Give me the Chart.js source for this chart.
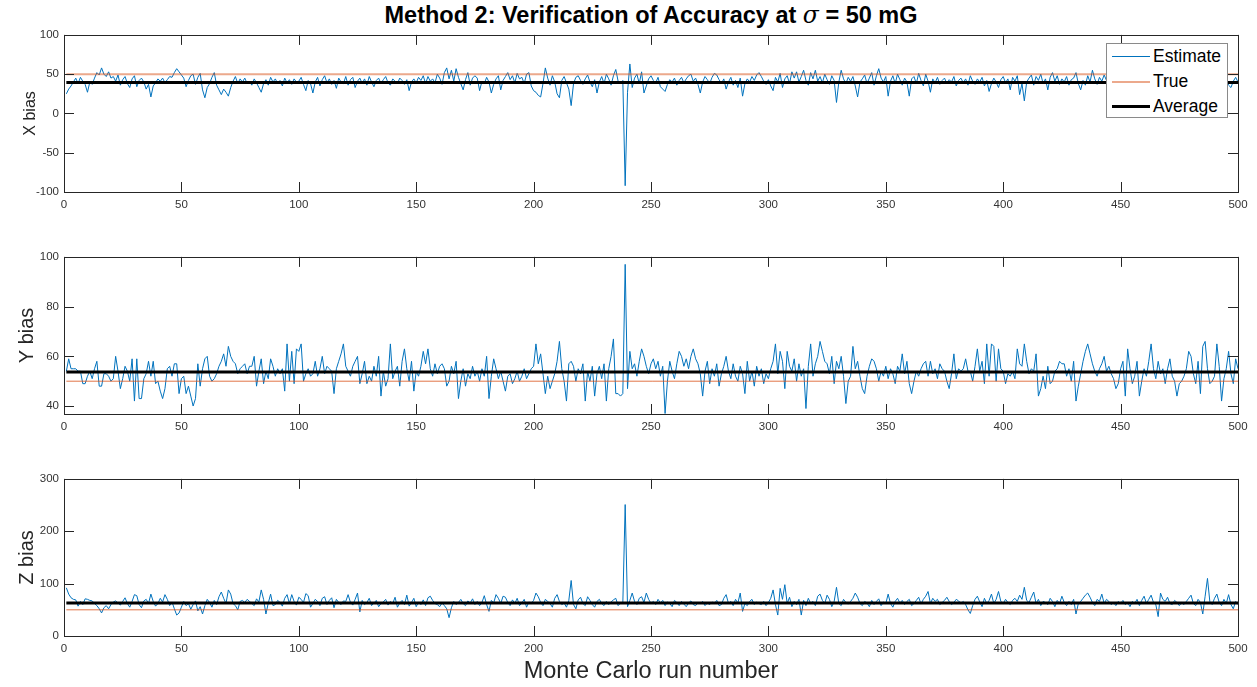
<!DOCTYPE html>
<html>
<head>
<meta charset="utf-8">
<script src="https://cdn.jsdelivr.net/npm/chart.js@4.4.1/dist/chart.umd.min.js"></script>
<style>
  body { margin: 0; background: #fff; }
  #page { position: relative; width: 1257px; height: 687px; overflow: hidden; font-family: "Liberation Sans", Arial, sans-serif; }
  #page canvas { position: absolute; left: 0; }
  #title { position: absolute; top: 1px; left: 301px; width: 700px; text-align: center; font-weight: bold; font-size: 23.5px; color: #000; white-space: nowrap; }
  #title i { font-weight: normal; font-family: "DejaVu Serif", serif; }
  #xlabel { position: absolute; top: 657px; left: 451px; width: 400px; text-align: center; font-size: 23.5px; color: #262626; white-space: nowrap; }
  #legend { position: absolute; left: 1106px; top: 43px; width: 122px; height: 75px; box-sizing: border-box; border: 1px solid #8a8a8a; background: #fff; font-size: 17.5px; color: #000; }
  #legend .row { display: flex; align-items: center; height: 25px; }
  #legend .swatch { display: inline-block; width: 38px; margin-left: 5px; margin-right: 3px; }
</style>
</head>
<body>
<div id="page">
  <div id="title">Method 2: Verification of Accuracy at <i>σ</i> = 50 mG</div>
  <canvas id="xChart" width="1257" height="200" style="top:23px"></canvas>
  <canvas id="yChart" width="1257" height="200" style="top:245px"></canvas>
  <canvas id="zChart" width="1257" height="200" style="top:467px"></canvas>
  <div id="xlabel">Monte Carlo run number</div>
  <div id="legend">
    <div class="row"><span class="swatch" style="border-top:1px solid #0072BD"></span>Estimate</div>
    <div class="row"><span class="swatch" style="border-top:2px solid rgba(217,83,25,0.5)"></span>True</div>
    <div class="row"><span class="swatch" style="border-top:3px solid #000"></span>Average</div>
  </div>
</div>
<script>
// tick labels
var runTicks = [0, 50, 100, 150, 200, 250, 300, 350, 400, 450, 500];
var xBiasTicks = [-100, -50, 0, 50, 100];
var yBiasTicks = [40, 60, 80, 100];
var zBiasTicks = [0, 100, 200, 300];

// reference lines
var trueX = 50, trueY = 50, trueZ = 50;
var avgX = 39.5, avgY = 53.7, avgZ = 63;

// estimates for runs 1..500
var xBias = [
  25,31,35,40,45,38,46,41,37,27,40,37,45,52,49,58,50,47,53,45,47,41,49,36,43,
  47,38,33,44,48,34,42,45,40,31,37,21,35,39,44,41,45,39,43,47,46,52,57,53,49,
  45,34,42,48,50,37,46,51,30,20,33,38,46,52,36,30,24,31,27,22,33,41,47,38,44,
  40,45,38,41,36,44,39,33,27,38,43,36,46,40,44,38,42,35,45,39,43,37,44,40,41,
  46,37,29,42,38,26,40,46,35,43,48,39,44,37,42,32,45,40,38,47,36,43,46,33,41,
  45,38,44,36,47,40,34,42,45,38,43,47,39,36,44,41,38,45,42,37,43,29,40,44,39,
  46,42,48,38,47,41,44,39,50,45,37,52,58,44,55,41,57,46,38,30,43,52,36,45,48,
  45,29,41,38,46,40,26,37,44,48,30,42,47,52,43,48,39,51,44,46,38,50,52,35,29,
  27,23,21,38,58,45,36,48,40,25,20,42,47,39,31,10,38,46,48,42,37,44,49,40,34,
  43,26,40,47,38,50,44,36,48,56,41,38,42,-92,27,63,33,45,50,38,53,26,35,44,48,
  42,39,46,34,31,28,37,43,40,45,36,42,46,39,44,48,50,41,45,37,26,40,47,43,38,
  46,51,49,43,38,44,31,40,46,36,42,33,45,22,38,44,40,47,42,49,52,47,41,37,43,
  35,29,46,40,51,33,44,48,38,53,45,53,40,47,55,42,36,52,44,55,41,47,39,50,43,
  37,48,42,14,40,55,44,38,46,41,47,35,21,40,44,49,38,45,52,36,48,57,45,40,47,
  22,41,48,38,50,43,36,45,40,22,44,47,38,51,42,35,50,41,27,44,39,46,37,42,45,
  38,43,40,47,35,42,45,39,44,36,48,41,37,44,40,46,35,42,28,38,45,40,33,43,47,
  39,44,30,46,41,48,24,38,16,40,45,49,36,47,42,50,38,44,30,46,52,41,48,37,44,
  40,47,36,43,45,52,38,30,42,36,48,40,55,44,37,46,41,49,42,52,38,44,25,40,46,
  41,48,37,44,39,46,42,35,47,40,44,38,49,43,36,45,41,48,39,44,37,46,42,50,40,
  45,38,43,47,36,42,49,40,44,37,46,41,48,39,35,44,40,47,38,43,36,33,41,46,40
];
var yBias = [
  54,59,55,55,55,54,54,49,49,52,54,51,55,58,48,48,53,53,52,50,51,60,54,47,51,
  56,54,50,59,42,59,43,43,51,53,58,52,58,49,50,46,43,47,55,56,52,57,57,45,51,
  52,45,48,44,40,43,57,48,55,59,60,52,50,51,53,56,58,61,56,64,60,58,57,53,55,
  56,57,53,56,56,60,48,54,59,49,54,51,59,56,52,55,53,55,46,65,50,62,49,63,62,
  65,50,53,55,52,53,58,52,55,60,53,56,55,54,45,55,58,61,65,56,54,52,56,58,60,
  49,53,58,49,52,50,56,52,60,44,54,48,51,65,51,54,56,48,58,63,55,50,58,46,54,
  52,56,62,57,63,55,52,57,53,56,57,55,48,50,56,53,58,43,50,55,48,53,51,56,52,
  54,50,55,52,60,43,52,59,55,51,54,50,46,52,53,49,51,54,50,52,55,51,53,55,56,
  65,57,61,53,45,52,47,50,53,58,66,55,50,42,57,58,56,50,55,53,57,42,54,50,56,
  44,53,56,51,57,42,55,60,67,45,45,44,45,97,47,62,55,57,52,58,63,60,56,53,57,
  59,55,58,52,56,37,50,58,54,51,57,62,60,56,59,55,60,63,59,57,53,44,54,58,49,
  55,52,57,48,53,56,60,54,51,57,52,50,56,53,45,58,50,54,48,56,52,55,49,53,51,
  55,58,65,53,62,58,47,62,56,54,59,50,57,52,55,39,56,65,52,57,60,66,62,58,57,
  53,60,49,58,55,60,52,41,50,52,64,55,58,52,47,45,52,56,59,58,55,50,54,52,56,
  51,55,53,49,56,54,61,53,58,49,45,50,54,52,55,57,58,52,58,53,55,51,57,55,54,
  50,47,53,61,51,55,54,55,59,54,54,50,56,63,54,58,49,65,52,65,64,50,63,55,54,
  49,53,52,54,51,63,57,56,65,58,53,55,54,61,44,47,52,47,56,49,50,54,55,58,57,
  57,52,55,50,58,42,48,53,58,62,65,61,57,54,52,55,57,60,54,56,53,51,47,49,55,
  58,44,63,55,49,52,58,44,50,55,52,58,65,55,51,58,53,55,49,55,59,52,50,44,49,
  50,52,55,62,60,53,49,58,45,64,66,55,49,50,52,65,56,42,51,55,62,53,49,59,55
];
var zBias = [
  92,80,73,70,69,57,66,60,71,70,68,67,62,58,52,44,54,58,52,60,65,67,63,59,66,
  73,62,55,66,79,77,60,54,67,70,62,80,66,57,62,72,65,79,70,58,65,52,40,44,55,
  66,58,62,51,60,67,48,56,42,58,70,64,55,68,60,75,84,72,62,88,80,62,58,50,66,
  68,64,70,66,62,58,71,65,88,70,42,63,80,58,60,68,64,57,72,79,62,79,66,59,74,
  70,64,81,77,55,62,70,66,58,72,75,60,68,73,54,70,64,60,67,66,79,64,59,70,82,
  46,68,60,64,72,58,63,68,56,62,65,70,59,66,62,74,55,63,68,60,78,57,64,72,56,
  65,60,69,58,73,76,68,62,60,56,63,58,52,35,54,66,60,64,70,62,58,67,63,71,60,
  66,58,64,77,60,47,68,63,79,72,62,76,74,64,58,69,62,72,58,63,70,55,65,62,68,
  82,75,64,58,70,66,62,55,72,79,66,60,63,55,68,106,60,52,69,74,62,58,75,68,60,
  55,66,70,62,58,66,60,65,69,72,58,63,62,251,56,68,82,66,60,72,75,64,82,70,62,
  66,60,70,63,68,58,65,62,56,68,64,58,66,61,56,63,67,60,58,64,62,66,58,63,60,
  65,62,68,58,60,72,79,62,66,58,70,63,82,47,62,58,66,70,60,65,62,60,66,58,64,
  72,88,60,40,91,70,98,62,74,56,66,60,70,40,68,58,72,62,66,58,76,80,68,62,78,
  70,56,66,93,62,58,70,64,61,66,72,82,74,62,58,66,63,56,68,60,66,71,58,65,62,
  80,62,55,66,72,63,68,60,66,70,58,62,68,74,61,70,76,85,62,72,66,70,60,64,68,
  74,66,60,64,70,67,62,66,60,50,43,58,70,76,65,56,72,62,68,80,62,70,85,66,62,
  70,64,60,68,72,66,78,70,93,68,64,74,84,62,70,58,66,64,60,72,66,56,68,62,76,
  64,58,66,60,70,42,62,66,72,78,82,74,64,58,70,66,80,62,70,66,60,64,58,66,62,
  68,60,64,56,66,62,70,58,68,76,62,70,78,64,60,37,82,70,66,74,62,60,68,64,58,
  64,60,66,72,78,62,58,70,64,42,76,110,66,60,72,80,64,58,70,62,79,60,52,66,60
];

// MATLAB style box with inward ticks on all four sides
var boxPlugin = {
  id: 'matlabBox',
  afterDraw: function (chart) {
    var ctx = chart.ctx, a = chart.chartArea;
    var xs = chart.scales.x, ys = chart.scales.y;
    var len = 10;
    ctx.save();
    ctx.strokeStyle = '#262626';
    ctx.lineWidth = 1;
    ctx.beginPath();
    xs.ticks.forEach(function (t) {
      var px = Math.round(xs.getPixelForValue(t.value)) + 0.5;
      ctx.moveTo(px, a.bottom); ctx.lineTo(px, a.bottom - len);
      ctx.moveTo(px, a.top); ctx.lineTo(px, a.top + len);
    });
    ys.ticks.forEach(function (t) {
      var py = Math.round(ys.getPixelForValue(t.value)) + 0.5;
      ctx.moveTo(a.left, py); ctx.lineTo(a.left + len, py);
      ctx.moveTo(a.right, py); ctx.lineTo(a.right - len, py);
    });
    ctx.stroke();
    ctx.strokeRect(Math.round(a.left) + 0.5, Math.round(a.top) + 0.5, Math.round(a.right - a.left), Math.round(a.bottom - a.top));
    ctx.restore();
  }
};

function drawPanel(id, values, trueVal, avgVal, yMin, yMax, yTicks, yTitle, titleSize, titlePad, trueColor, trueWidth) {
  var plotHeight = 159;
  var estimate = values.map(function (v, i) { return { x: i + 1, y: v }; });
  var flat = function (v) { return [{ x: 1, y: v }, { x: values.length, y: v }]; };
  return new Chart(document.getElementById(id), {
    type: 'line',
    data: {
      datasets: [
        { label: 'Estimate', data: estimate, borderColor: '#0072BD', borderWidth: 1, order: 2 },
        { label: 'True', data: flat(trueVal), borderColor: trueColor, borderWidth: trueWidth, order: 1 },
        { label: 'Average', data: flat(avgVal), borderColor: '#000000', borderWidth: 3, order: 0 }
      ]
    },
    options: {
      responsive: false,
      animation: false,
      layout: { padding: { top: 10, right: 19, left: 0, bottom: 0 } },
      elements: { point: { radius: 0 }, line: { tension: 0 } },
      plugins: { legend: { display: false }, tooltip: { enabled: false } },
      scales: {
        x: {
          type: 'linear', min: 0, max: 500,
          grid: { display: false, drawTicks: false },
          border: { display: false },
          ticks: { padding: 6, color: '#333333', font: { family: 'Liberation Sans', size: 11.5 }, maxRotation: 0, autoSkip: false },
          afterBuildTicks: function (s) { s.ticks = runTicks.map(function (v) { return { value: v }; }); },
          afterFit: function (s) { s.height = 200 - 10 - plotHeight; }
        },
        y: {
          type: 'linear', min: yMin, max: yMax,
          grid: { display: false, drawTicks: false },
          border: { display: false },
          ticks: { padding: 5, color: '#333333', font: { family: 'Liberation Sans', size: 11.5 }, autoSkip: false },
          title: { display: true, text: yTitle, color: '#262626', font: { family: 'Liberation Sans', size: titleSize }, padding: { top: titlePad, bottom: 0 } },
          afterBuildTicks: function (s) { s.ticks = yTicks.map(function (v) { return { value: v }; }); },
          afterFit: function (s) { s.width = 64; }
        }
      }
    },
    plugins: [boxPlugin]
  });
}

drawPanel('xChart', xBias, trueX, avgX, -100, 100, xBiasTicks, 'X bias', 16, 21, 'rgba(217,83,25,0.5)', 2);
drawPanel('yChart', yBias, trueY, avgY, 36.8, 100, yBiasTicks, 'Y bias', 20, 15, 'rgba(217,83,25,0.8)', 1);
drawPanel('zChart', zBias, trueZ, avgZ, 0, 300, zBiasTicks, 'Z bias', 20, 15, 'rgba(217,83,25,0.8)', 1);
</script>
</body>
</html>
